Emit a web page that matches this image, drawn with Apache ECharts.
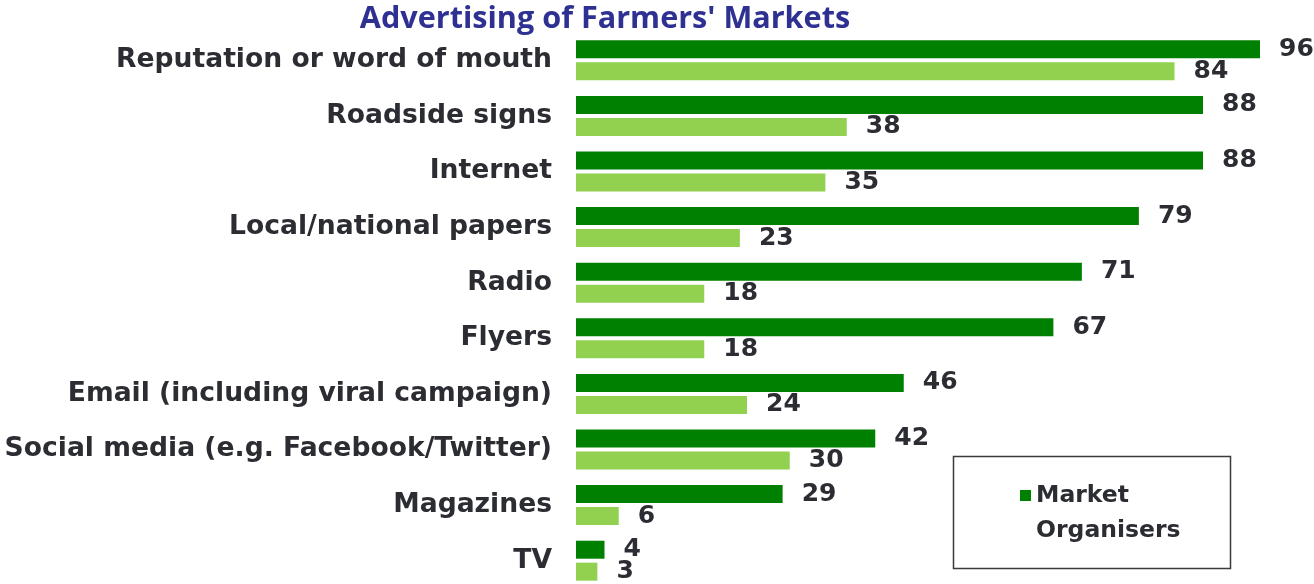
<!DOCTYPE html>
<html>
<head>
<meta charset="utf-8">
<script src="https://cdn.jsdelivr.net/npm/echarts@6/dist/echarts.min.js"></script>
<style>html,body{margin:0;padding:0;background:#fff}#c{width:1314px;height:584px}</style>
</head>
<body>
<div id="c"></div>
<script>
const categories = [
  'Reputation or word of mouth',
  'Roadside signs',
  'Internet',
  'Local/national papers',
  'Radio',
  'Flyers',
  'Email (including viral campaign)',
  'Social media (e.g. Facebook/Twitter)',
  'Magazines',
  'TV'
];
const marketOrganisers = [96, 88, 88, 79, 71, 67, 46, 42, 29, 4];
const consumers = [84, 38, 35, 23, 18, 18, 24, 30, 6, 3];
const titleText = "Advertising of Farmers' Markets";

const textColor = '#2b2d33';
const labelFont = 'DejaVu Sans';
const chart = echarts.init(document.getElementById('c'), null, {renderer: 'canvas'});
chart.setOption({
  animation: false,
  backgroundColor: '#ffffff',
  title: {
    text: titleText,
    left: 600, textAlign: 'center', top: -1,
    textStyle: {fontFamily: 'Open Sans', fontWeight: 'bold', fontSize: 30.6, color: '#2e3192'}
  },
  grid: {left: 576, right: 25.5, top: 32.5, height: 556, outerBoundsMode: 'none', containLabel: false},
  xAxis: {type: 'value', min: 0, max: 100, show: false, splitLine: {show: false}},
  yAxis: {
    type: 'category', data: categories, inverse: true,
    axisLine: {show: false}, axisTick: {show: false},
    axisLabel: {margin: 24, color: textColor, fontFamily: labelFont, fontWeight: 'bold', fontSize: 26.6}
  },
  legend: {
    data: ['Market Organisers'],
    left: 1020, top: 443, padding: 0,
    itemWidth: 11, itemHeight: 11, icon: 'rect',
    formatter: function () { return '\nMarket\nOrganisers'; },
    textStyle: {color: textColor, fontFamily: labelFont, fontWeight: 'bold', fontSize: 23.5, lineHeight: 35}
  },
  graphic: [{
    type: 'rect', shape: {x: 953.5, y: 456.5, width: 277, height: 112},
    style: {fill: 'none', stroke: '#3a3a3a', lineWidth: 1.5}, z: 100
  }],
  series: [
    {
      name: 'Market Organisers', type: 'bar', data: marketOrganisers,
      barWidth: 18, barGap: '22%',
      itemStyle: {color: '#008000'},
      label: {show: true, position: 'right', distance: 19, color: textColor, fontFamily: labelFont, fontWeight: 'bold', fontSize: 25}
    },
    {
      name: 'Consumers', type: 'bar', data: consumers,
      barWidth: 18,
      itemStyle: {color: '#92d050'},
      label: {show: true, position: 'right', distance: 19, color: textColor, fontFamily: labelFont, fontWeight: 'bold', fontSize: 25}
    }
  ]
});
</script>
</body>
</html>
